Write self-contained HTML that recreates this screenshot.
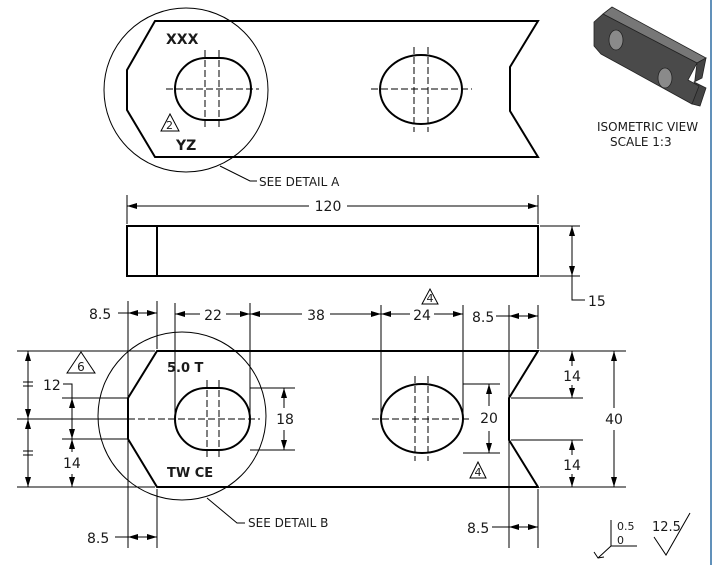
<!DOCTYPE html>
<html><head><meta charset="utf-8"><style>
html,body{margin:0;padding:0;background:#fff;}
svg{display:block;}
text{font-family:"DejaVu Sans","Liberation Sans",sans-serif;fill:#1a1a1a;}
</style></head><body>
<svg width="714" height="565" viewBox="0 0 714 565" xmlns="http://www.w3.org/2000/svg">
<defs>
<marker id="a" viewBox="0 0 10 6" refX="10" refY="3" markerWidth="10" markerHeight="6" orient="auto-start-reverse" markerUnits="userSpaceOnUse"><path d="M0,0L10,3L0,6z" fill="#000"/></marker>
</defs>
<rect x="0" y="0" width="714" height="565" fill="#fff"/>
<line x1="711" y1="0" x2="711" y2="565" stroke="#2d6da3" stroke-width="1.5"/>

<!-- TOP VIEW -->
<g fill="none" stroke="#000">
<path d="M155,21L538,21L510,67L510,111L538,157L155,157L127,110L127,70Z" stroke-width="2"/>
<circle cx="186" cy="90" r="82" stroke-width="1"/>
<rect x="175" y="58" width="76" height="62" rx="31" ry="31" stroke-width="2"/>
<ellipse cx="421" cy="89.5" rx="41" ry="34.5" stroke-width="2"/>
<g stroke-width="1" stroke-dasharray="7,3">
<line x1="166" y1="89" x2="259" y2="89"/>
<line x1="205" y1="50" x2="205" y2="128"/>
<line x1="219" y1="50" x2="219" y2="128"/>
<line x1="371" y1="89" x2="472" y2="89"/>
<line x1="414" y1="47" x2="414" y2="132"/>
<line x1="428" y1="47" x2="428" y2="132"/>
</g>
<polyline points="220,166 250,181 257,181" stroke-width="1"/>
<polygon points="161,131 170,114 179,131" stroke-width="1"/>
</g>
<text x="166" y="44" font-size="14" font-weight="bold">XXX</text>
<text x="176" y="150" font-size="14" font-weight="bold">YZ</text>
<text x="166" y="129" font-size="11">2</text>
<text x="259" y="186" font-size="12">SEE DETAIL A</text>

<!-- ISO -->
<g stroke="#222" stroke-width="0.8">
<polygon points="603,14 612,7 706,58 697,63" fill="#777"/>
<polygon points="697,63 706,58 702,78 694,82 706,88 700,106 692,104" fill="#444"/>
<polygon points="594,22 603,14 697,63 688,80 699,86 692,104 601,54 594,46" fill="#4a4a4a"/>
<ellipse cx="616" cy="40" rx="7" ry="10" fill="#8a8a8a"/>
<ellipse cx="665" cy="78" rx="7" ry="10" fill="#8a8a8a"/>
</g>
<text x="597" y="131" font-size="12">ISOMETRIC VIEW</text>
<text x="610" y="146" font-size="12">SCALE 1:3</text>

<!-- SIDE VIEW -->
<g fill="none" stroke="#000">
<rect x="127" y="226" width="411" height="50" stroke-width="2"/>
<line x1="157" y1="226" x2="157" y2="276" stroke-width="2"/>
<g stroke-width="1">
<line x1="127" y1="195" x2="127" y2="224"/>
<line x1="538" y1="195" x2="538" y2="224"/>
<line x1="127" y1="206" x2="309" y2="206" marker-start="url(#a)"/>
<line x1="347" y1="206" x2="538" y2="206" marker-end="url(#a)"/>
<line x1="540" y1="226" x2="580" y2="226"/>
<line x1="540" y1="276" x2="580" y2="276"/>
<line x1="572" y1="226" x2="572" y2="276" marker-start="url(#a)" marker-end="url(#a)"/>
<polyline points="572,276 572,300 585,300"/>
</g>
</g>
<text x="328" y="211" font-size="14" text-anchor="middle">120</text>
<text x="588" y="306" font-size="14">15</text>

<!-- FRONT VIEW -->
<g fill="none" stroke="#000">
<path d="M157,351L538,351L509,398L509,440L538,487L157,487L128,439L128,398Z" stroke-width="2"/>
<circle cx="182" cy="416" r="84" stroke-width="1"/>
<rect x="175" y="388" width="75" height="62" rx="31" ry="31" stroke-width="2"/>
<ellipse cx="422" cy="418.5" rx="41" ry="34.5" stroke-width="2"/>
<g stroke-width="1" stroke-dasharray="7,3">
<line x1="128" y1="419" x2="260" y2="419"/>
<line x1="207" y1="380" x2="207" y2="458"/>
<line x1="219" y1="380" x2="219" y2="458"/>
<line x1="372" y1="419" x2="470" y2="419"/>
<line x1="415" y1="376" x2="415" y2="461"/>
<line x1="428" y1="376" x2="428" y2="461"/>
</g>
<g stroke-width="1">
<line x1="128" y1="301" x2="128" y2="548"/>
<line x1="157" y1="301" x2="157" y2="349"/>
<line x1="157" y1="489" x2="157" y2="548"/>
<line x1="175" y1="303" x2="175" y2="419"/>
<line x1="250" y1="303" x2="250" y2="419"/>
<line x1="381" y1="305" x2="381" y2="419"/>
<line x1="463" y1="305" x2="463" y2="419"/>
<line x1="509" y1="305" x2="509" y2="548"/>
<line x1="538" y1="305" x2="538" y2="349"/>
<line x1="538" y1="489" x2="538" y2="548"/>
<line x1="118" y1="313" x2="128" y2="313"/>
<line x1="128" y1="313" x2="157" y2="313" marker-start="url(#a)" marker-end="url(#a)"/>
<line x1="175" y1="314" x2="200" y2="314" marker-start="url(#a)"/>
<line x1="226" y1="314" x2="250" y2="314" marker-end="url(#a)"/>
<line x1="250" y1="314" x2="302" y2="314" marker-start="url(#a)"/>
<line x1="330" y1="314" x2="381" y2="314" marker-end="url(#a)"/>
<line x1="381" y1="314" x2="410" y2="314" marker-start="url(#a)"/>
<line x1="434" y1="314" x2="463" y2="314" marker-end="url(#a)"/>
<line x1="496" y1="316" x2="509" y2="316"/>
<line x1="509" y1="316" x2="538" y2="316" marker-start="url(#a)" marker-end="url(#a)"/>
<line x1="115" y1="537" x2="128" y2="537"/>
<line x1="128" y1="537" x2="157" y2="537" marker-start="url(#a)" marker-end="url(#a)"/>
<line x1="492" y1="527" x2="509" y2="527"/>
<line x1="509" y1="527" x2="538" y2="527" marker-start="url(#a)" marker-end="url(#a)"/>
<line x1="17" y1="351" x2="155" y2="351"/>
<line x1="17" y1="419" x2="128" y2="419"/>
<line x1="17" y1="487" x2="155" y2="487"/>
<line x1="28" y1="351" x2="28" y2="419" marker-start="url(#a)" marker-end="url(#a)"/>
<line x1="28" y1="419" x2="28" y2="487" marker-start="url(#a)" marker-end="url(#a)"/>
<line x1="62" y1="398" x2="128" y2="398"/>
<line x1="62" y1="439" x2="128" y2="439"/>
<line x1="72" y1="398" x2="72" y2="439" marker-start="url(#a)" marker-end="url(#a)"/>
<line x1="72" y1="439" x2="72" y2="452" marker-start="url(#a)"/>
<line x1="72" y1="474" x2="72" y2="487" marker-end="url(#a)"/>
<polyline points="63,384 72,384 72,398"/>
<line x1="250" y1="388" x2="295" y2="388"/>
<line x1="250" y1="450" x2="295" y2="450"/>
<line x1="284" y1="388" x2="284" y2="408" marker-start="url(#a)"/>
<line x1="284" y1="430" x2="284" y2="450" marker-end="url(#a)"/>
<line x1="463" y1="384" x2="500" y2="384"/>
<line x1="463" y1="453" x2="500" y2="453"/>
<line x1="489" y1="384" x2="489" y2="406" marker-start="url(#a)"/>
<line x1="489" y1="431" x2="489" y2="453" marker-end="url(#a)"/>
<line x1="540" y1="351" x2="626" y2="351"/>
<line x1="540" y1="487" x2="626" y2="487"/>
<line x1="511" y1="398" x2="583" y2="398"/>
<line x1="511" y1="440" x2="583" y2="440"/>
<line x1="572" y1="351" x2="572" y2="366" marker-start="url(#a)"/>
<line x1="572" y1="385" x2="572" y2="398" marker-end="url(#a)"/>
<line x1="572" y1="440" x2="572" y2="455" marker-start="url(#a)"/>
<line x1="572" y1="474" x2="572" y2="487" marker-end="url(#a)"/>
<line x1="614" y1="351" x2="614" y2="408" marker-start="url(#a)"/>
<line x1="614" y1="430" x2="614" y2="487" marker-end="url(#a)"/>
<line x1="23" y1="382" x2="33" y2="382"/><line x1="23" y1="386" x2="33" y2="386"/>
<line x1="23" y1="451" x2="33" y2="451"/><line x1="23" y1="455" x2="33" y2="455"/>
<polyline points="207,498 237,523 245,523"/>
<polygon points="67,373 81,352 95,373"/>
<polygon points="422,304 430,289 438,304"/>
<polygon points="470,478 478,462 486,478"/>
<polyline points="611,520 611,546 637,546"/>
<line x1="611" y1="546" x2="598" y2="558"/>
<polyline points="594,552 598,558 604,557"/>
<polyline points="654,537 666,555 690,513"/>
</g>
</g>
<text x="89" y="319" font-size="14">8.5</text>
<text x="213" y="320" font-size="14" text-anchor="middle">22</text>
<text x="316" y="320" font-size="14" text-anchor="middle">38</text>
<text x="422" y="320" font-size="14" text-anchor="middle">24</text>
<text x="472" y="322" font-size="14">8.5</text>
<text x="87" y="543" font-size="14">8.5</text>
<text x="467" y="533" font-size="14">8.5</text>
<text x="43" y="390" font-size="14">12</text>
<text x="63" y="468" font-size="14">14</text>
<text x="285" y="424" font-size="14" text-anchor="middle">18</text>
<text x="489" y="423" font-size="14" text-anchor="middle">20</text>
<text x="572" y="381" font-size="14" text-anchor="middle">14</text>
<text x="572" y="470" font-size="14" text-anchor="middle">14</text>
<text x="614" y="424" font-size="14" text-anchor="middle">40</text>
<text x="81" y="371" font-size="12" text-anchor="middle">6</text>
<text x="430" y="302" font-size="11" text-anchor="middle">4</text>
<text x="478" y="476" font-size="11" text-anchor="middle">4</text>
<text x="167" y="372" font-size="13" font-weight="bold">5.0 T</text>
<text x="167" y="477" font-size="13" font-weight="bold">TW CE</text>
<text x="248" y="527" font-size="12">SEE DETAIL B</text>
<text x="617" y="530" font-size="11">0.5</text>
<text x="617" y="544" font-size="11">0</text>
<text x="652" y="531" font-size="13">12.5</text>
</svg>
</body></html>
